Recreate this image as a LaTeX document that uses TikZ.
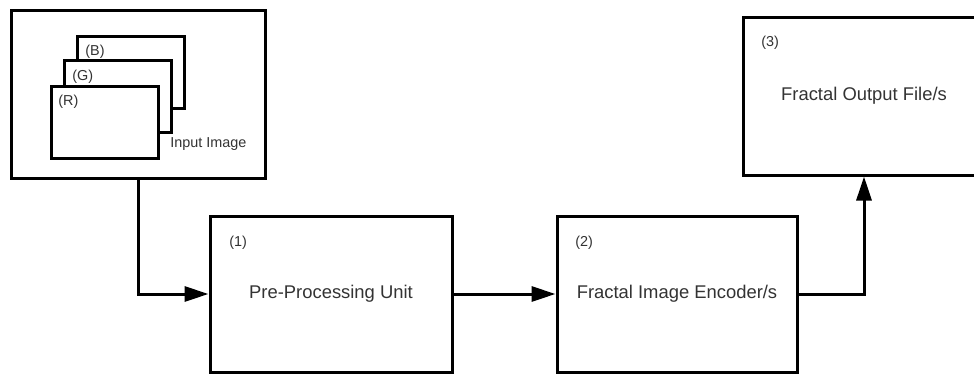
\documentclass[tikz,border=0pt]{standalone}
\usepackage{fontspec}
\setmainfont{Liberation Sans}
\usetikzlibrary{arrows.meta, positioning}
\tikzset{
        block/.style={rectangle, draw, line width=1.5pt, fill=white, minimum width=121pt, minimum height=78pt, inner sep=0pt, font=\fontsize{9.2}{11}\selectfont, text=black!80},
        inputbox/.style={rectangle, draw, line width=1.5pt, fill=white, minimum width=127pt, minimum height=84pt, inner sep=0pt},
        channel/.style={rectangle, draw, line width=1.5pt, fill=white, minimum width=53.5pt, minimum height=36pt, inner sep=0pt},
        tag/.style={anchor=west, inner sep=0pt, font=\fontsize{7.2}{8}\selectfont, text=black!80},
        arrow/.style={-{Triangle[length=12pt, width=7.5pt]}, line width=1.5pt},
    }
\begin{document}
\begin{tikzpicture}[x=0.5pt, y=-0.5pt]
        \useasboundingbox (0,0) rectangle (974,375);

        % INPUT
        \node[inputbox] (input) at (138,94) {};
        \node[channel] (chB) at (131,72) {};
        \node[channel] (chG) at (118,96) {};
        \node[channel] (chR) at (105,122) {};
        \node[tag] (tagB) at (85,52) {(B)};
        \node[tag] (tagG) at (72,77) {(G)};
        \node[tag] (tagR) at (58,102) {(R)};
        \node[tag] (inlabel) at (170,144) {Input Image};

        % PRE-PROCESSING
        \node[block] (pre) at (331,294) {Pre-Processing Unit};
        \node[tag] (num1) at (229,243) {(1)};

        % ENCODER
        \node[block, minimum width=120pt] (enc) at (677,294) {Fractal Image Encoder/s};
        \node[tag] (num2) at (575,243) {(2)};

        % OUTPUT
        \node[block, minimum height=79pt] (out) at (864,96) {Fractal Output File/s};
        \node[tag] (num3) at (761,43) {(3)};

        % Arrows
        \draw[arrow] (input.south) |- (pre.west);
        \draw[arrow] (pre) -- (enc);
        \draw[arrow] (enc.east) -| (out.south);
    \end{tikzpicture}
\end{document}
